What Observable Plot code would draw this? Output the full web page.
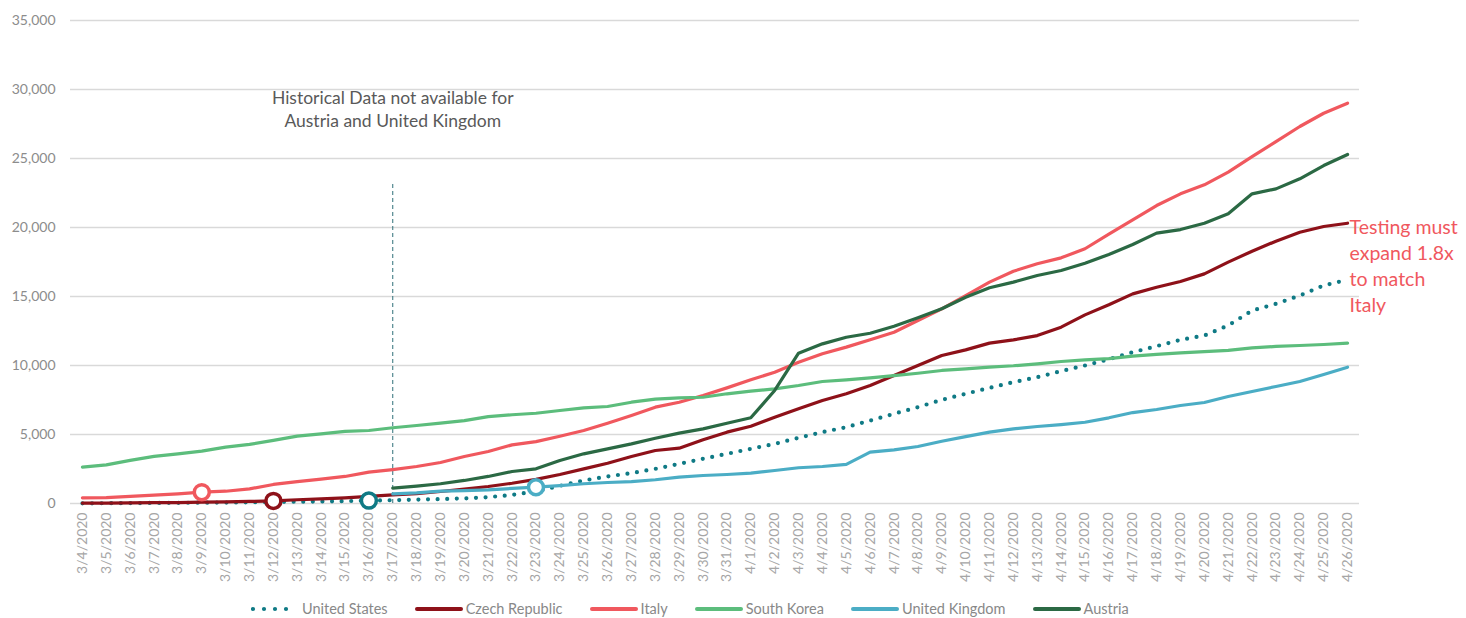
<!DOCTYPE html>
<html>
<head>
<meta charset="utf-8">
<script src="https://cdn.jsdelivr.net/npm/d3@7"></script>
<script src="https://cdn.jsdelivr.net/npm/@observablehq/plot@0.6"></script>
<style>
  html, body { margin: 0; padding: 0; background: #fff; }
  body { width: 1466px; height: 618px; overflow: hidden; font-family: Lato, "Open Sans", sans-serif; }
  #legend { position: relative; height: 23px; }
  #legend .items { position: absolute; left: 251px; top: 2px; display: flex; align-items: center; height: 23px; }
  #legend .item { display: flex; align-items: center; margin-right: 27px; font-size: 14.5px; color: #888888; }
  #legend svg { margin-right: 3px; }
</style>
</head>
<body>
<div id="chart"></div>
<div id="legend"><div class="items"></div></div>
<script>
// Daily cumulative tests, 3/4/2020 – 4/26/2020
const dates = [
  "3/4/2020","3/5/2020","3/6/2020","3/7/2020","3/8/2020","3/9/2020","3/10/2020","3/11/2020",
  "3/12/2020","3/13/2020","3/14/2020","3/15/2020","3/16/2020","3/17/2020","3/18/2020","3/19/2020",
  "3/20/2020","3/21/2020","3/22/2020","3/23/2020","3/24/2020","3/25/2020","3/26/2020","3/27/2020",
  "3/28/2020","3/29/2020","3/30/2020","3/31/2020","4/1/2020","4/2/2020","4/3/2020","4/4/2020",
  "4/5/2020","4/6/2020","4/7/2020","4/8/2020","4/9/2020","4/10/2020","4/11/2020","4/12/2020",
  "4/13/2020","4/14/2020","4/15/2020","4/16/2020","4/17/2020","4/18/2020","4/19/2020","4/20/2020",
  "4/21/2020","4/22/2020","4/23/2020","4/24/2020","4/25/2020","4/26/2020"
];

const countries = ["United States", "Czech Republic", "Italy", "South Korea", "United Kingdom", "Austria"];
const colors = ["#0f7a85", "#8e1119", "#f0585e", "#5cbd7c", "#4badc5", "#2b6944"];

const unitedStates = [
  10, 20, 30, 40, 50, 60, 70, 90, 110, 130, 150, 170, 210, 240, 280, 320,
  370, 460, 620, 880, 1280, 1670, 1960, 2200, 2510, 2870, 3240, 3600, 3960, 4320, 4760, 5170,
  5530, 6010, 6500, 6980, 7510, 7950, 8380, 8790, 9150, 9590, 10000, 10450, 10960, 11400, 11860, 12170,
  12900, 13980, 14470, 15070, 15800, 16210
];
const czechRepublic = [
  30, 30, 40, 60, 70, 100, 120, 150, 190, 270, 340, 410, 510, 630, 720, 870,
  1040, 1230, 1470, 1750, 2100, 2510, 2920, 3410, 3840, 4010, 4620, 5170, 5600, 6250, 6860, 7460,
  7950, 8550, 9270, 10000, 10720, 11130, 11620, 11860, 12170, 12780, 13670, 14400, 15190, 15670, 16090, 16640,
  17490, 18280, 19010, 19660, 20070, 20310
];
const italy = [
  410, 420, 510, 600, 700, 820, 890, 1060, 1380, 1590, 1760, 1960, 2270, 2460, 2680, 2970,
  3410, 3770, 4250, 4480, 4870, 5290, 5820, 6380, 6980, 7340, 7830, 8380, 8960, 9510, 10240, 10850,
  11330, 11860, 12410, 13260, 14110, 15070, 16040, 16830, 17370, 17800, 18460, 19520, 20560, 21590, 22440, 23090,
  24010, 25140, 26230, 27320, 28280, 29010
];
const southKorea = [
  2630, 2800, 3120, 3410, 3600, 3790, 4080, 4280, 4570, 4880, 5050, 5220, 5290, 5490, 5650, 5820,
  6010, 6300, 6430, 6540, 6740, 6930, 7030, 7340, 7560, 7660, 7700, 7950, 8140, 8310, 8550, 8840,
  8960, 9110, 9270, 9440, 9640, 9760, 9880, 9980, 10120, 10290, 10410, 10500, 10680, 10800, 10920, 11010,
  11090, 11280, 11380, 11450, 11520, 11620
];
const unitedKingdom = [
  null, null, null, null, null, null, null, null, null, null, null, null, null, 700, 770, 890,
  940, 990, 1090, 1180, 1300, 1430, 1520, 1590, 1720, 1910, 2030, 2100, 2200, 2390, 2590, 2680,
  2830, 3720, 3890, 4130, 4510, 4850, 5170, 5410, 5580, 5720, 5890, 6210, 6590, 6810, 7100, 7320,
  7750, 8120, 8480, 8840, 9350, 9880
];
const austria = [
  null, null, null, null, null, null, null, null, null, null, null, null, null, 1110, 1260, 1430,
  1670, 1960, 2320, 2510, 3120, 3600, 3960, 4320, 4730, 5100, 5410, 5820, 6210, 8190, 10890, 11570,
  12050, 12340, 12850, 13460, 14110, 14950, 15630, 16040, 16520, 16880, 17410, 18050, 18770, 19590, 19850, 20310,
  20990, 22440, 22800, 23530, 24490, 25290
];

const yTicks = [0, 5000, 10000, 15000, 20000, 25000, 30000, 35000];

// Open circles marking each country's first policy milestone
const milestoneCountries = ["Italy", "Czech Republic", "United States", "United Kingdom"];
const milestoneDates = ["3/9/2020", "3/12/2020", "3/16/2020", "3/23/2020"];

const historyNote = "Historical Data not available for\nAustria and United Kingdom";
const historyDate = "3/17/2020";
const testingNote = "Testing must\nexpand 1.8x\nto match\nItaly";

// Tidy rows for the line marks
const seriesValues = [unitedStates, czechRepublic, italy, southKorea, unitedKingdom, austria];
const rows = [];
countries.forEach((country, k) => {
  seriesValues[k].forEach((v, i) => {
    if (v != null) rows.push({country, date: dates[i], value: v});
  });
});
const valueOf = (country, date) => seriesValues[countries.indexOf(country)][dates.indexOf(date)];
const milestones = milestoneCountries.map((c, i) => ({country: c, date: milestoneDates[i], value: valueOf(c, milestoneDates[i])}));

const lineOf = (country, extra = {}) => Plot.line(rows.filter(d => d.country === country), {
  x: "date", y: "value", stroke: "country", strokeWidth: 3.2,
  strokeLinejoin: "round", strokeLinecap: "round", ...extra
});

const chart = Plot.plot({
  width: 1466,
  height: 595,
  marginLeft: 70,
  marginRight: 107,
  marginTop: 20,
  marginBottom: 92,
  style: {fontFamily: "Lato, 'Open Sans', sans-serif", background: "#fff", overflow: "visible"},
  x: {type: "point", domain: dates, padding: 0.5, label: null},
  y: {domain: [0, 35000], label: null},
  color: {domain: countries, range: colors},
  marks: [
    Plot.gridY(yTicks, {stroke: "#d9d9d9", strokeOpacity: 1, strokeWidth: 1.3}),
    Plot.ruleX([historyDate], {y1: 0, y2: 23200, stroke: "#2f6f78", strokeWidth: 1, strokeDasharray: "4,3"}),
    Plot.text([historyNote], {
      x: () => historyDate, y: () => 28650, text: d => d,
      fill: "#595959", fontSize: 17.5, lineHeight: 1.34, lineAnchor: "middle", textAnchor: "middle"
    }),
    lineOf("United States", {strokeWidth: 4.2, strokeDasharray: "0,9.6"}),
    lineOf("Czech Republic"),
    lineOf("Italy"),
    lineOf("South Korea"),
    lineOf("United Kingdom"),
    lineOf("Austria"),
    Plot.dot(milestones, {x: "date", y: "value", r: 7.5, fill: "white", stroke: "country", strokeWidth: 3.5}),
    Plot.text([testingNote], {
      x: () => dates[dates.length - 1], y: () => 17330, text: d => d,
      fill: colors[2], fontSize: 19.5, lineHeight: 1.33, lineAnchor: "middle", textAnchor: "start", dx: 2
    }),
    Plot.axisY(yTicks, {tickSize: 0, tickPadding: 15, tickFormat: d3.format(","), color: "#8c8c8c", fontSize: 14, label: null}),
    Plot.axisX({tickRotate: -90, tickSize: 0, tickPadding: 9, color: "#a6a6a6", fontSize: 14, label: null})
  ]
});
document.getElementById("chart").appendChild(chart);

// Legend row below the chart
const items = d3.select("#legend .items");
countries.forEach((c, i) => {
  const item = items.append("div").attr("class", "item");
  const sw = item.append("svg").attr("width", 48).attr("height", 8);
  const l = sw.append("line").attr("x1", 2).attr("x2", 46).attr("y1", 4).attr("y2", 4)
    .attr("stroke", colors[i]).attr("stroke-linecap", "round");
  if (c === "United States") l.attr("stroke-width", 4.2).attr("stroke-dasharray", "0,11");
  else l.attr("stroke-width", 4);
  item.append("span").text(c);
});
</script>
</body>
</html>
